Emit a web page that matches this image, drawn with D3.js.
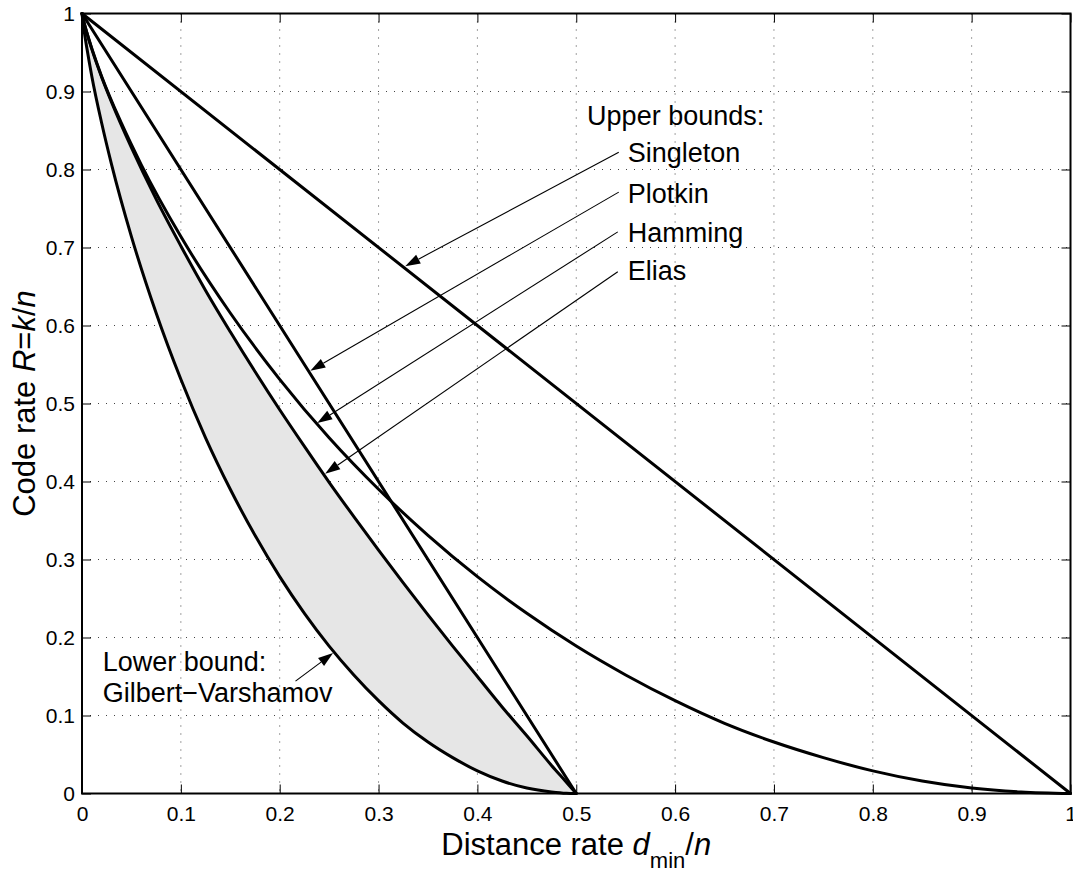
<!DOCTYPE html>
<meta charset="utf-8">
<style>
    body { margin: 0; background: #fff; }
    svg text { font-family: "Liberation Sans", Arial, sans-serif; fill: #000; }
    .grid line { stroke: #444; stroke-width: 1; stroke-dasharray: 1,7; }
    .tick-axis line { stroke: #000; stroke-width: 1; }
    .tick-axis path { display: none; }
    .tick-axis text { font-size: 21px; }
    .bound { fill: none; stroke: #000; stroke-width: 3; stroke-linejoin: round; stroke-linecap: round; }
    .note-line { stroke: #000; stroke-width: 1.1; }
    .note text { font-size: 27px; }
</style>

<svg width="1073" height="871"></svg>
<script src="https://cdn.jsdelivr.net/npm/d3@7"></script>

<script>
    // distance rate grid shared by the lower bound (GV) and the Elias bound
    var deltaLow = [0, 0.001, 0.0025, 0.005, 0.01, 0.02, 0.03, 0.05, 0.075, 0.1, 0.125, 0.15, 0.175,
        0.2, 0.225, 0.25, 0.275, 0.3, 0.325, 0.35, 0.375, 0.4, 0.425, 0.45, 0.475, 0.49, 0.5];
    var gvRate = [1, 0.989, 0.975, 0.955, 0.919, 0.859, 0.806, 0.714, 0.616, 0.531, 0.456, 0.390, 0.331,
        0.278, 0.231, 0.189, 0.152, 0.119, 0.090, 0.066, 0.046, 0.029, 0.016, 0.007, 0.002, 0.0003, 0];
    var eliasRate = [1, 0.994, 0.986, 0.975, 0.954, 0.918, 0.886, 0.828, 0.762, 0.702, 0.645, 0.592, 0.541,
        0.492, 0.445, 0.399, 0.355, 0.312, 0.270, 0.229, 0.189, 0.150, 0.111, 0.074, 0.036, 0.0145, 0];

    var deltaHam = [0, 0.002, 0.005, 0.01, 0.02, 0.04, 0.06, 0.1, 0.15, 0.2, 0.25, 0.3, 0.35, 0.4, 0.45,
        0.5, 0.55, 0.6, 0.65, 0.7, 0.75, 0.8, 0.85, 0.9, 0.95, 1];
    var hammingRate = [1, 0.989, 0.975, 0.955, 0.919, 0.859, 0.806, 0.714, 0.616, 0.531, 0.456, 0.390, 0.331,
        0.278, 0.231, 0.189, 0.152, 0.119, 0.090, 0.066, 0.046, 0.029, 0.016, 0.007, 0.002, 0];

    var singleton = [[0, 1], [1, 0]];
    var plotkin = [[0, 1], [0.5, 0]];

    var xTicks = [0, 0.1, 0.2, 0.3, 0.4, 0.5, 0.6, 0.7, 0.8, 0.9, 1];
    var yTicks = [0, 0.1, 0.2, 0.3, 0.4, 0.5, 0.6, 0.7, 0.8, 0.9, 1];

    // labels: text anchor, arrow tail, arrow tip (data units)
    var upperNotes = [
        { label: "Singleton", text: [0.552, 0.809], from: [0.543, 0.822], to: [0.327, 0.676] },
        { label: "Plotkin",   text: [0.552, 0.757], from: [0.543, 0.771], to: [0.231, 0.542] },
        { label: "Hamming",   text: [0.552, 0.707], from: [0.542, 0.720], to: [0.238, 0.475] },
        { label: "Elias",     text: [0.552, 0.658], from: [0.542, 0.669], to: [0.246, 0.410] }
    ];
    var gvNote = { lines: ["Lower bound:", "Gilbert\u2212Varshamov"], text: [0.021, 0.157],
        from: [0.216, 0.144], to: [0.254, 0.180] };

    var svg = d3.select("svg");
    var mLeft = 82, mRight = 1070.5, mTop = 13.5, mBottom = 793.5;

    var x = d3.scaleLinear().domain([0, 1]).range([mLeft, mRight]);
    var y = d3.scaleLinear().domain([0, 1]).range([mBottom, mTop]);
    var fmt = function (d) { return d === 0 || d === 1 ? String(d) : d3.format(".1f")(d); };

    // grid
    var grid = svg.append("g").attr("class", "grid");
    grid.selectAll(".gx").data(xTicks.slice(1, -1)).enter().append("line")
        .attr("x1", x).attr("x2", x).attr("y1", mTop).attr("y2", mBottom);
    grid.selectAll(".gy").data(yTicks.slice(1, -1)).enter().append("line")
        .attr("y1", y).attr("y2", y).attr("x1", mLeft).attr("x2", mRight);

    // shaded region between GV and Elias
    var lowRows = deltaLow.map(function (d, i) { return { d: d, lo: gvRate[i], hi: eliasRate[i] }; });
    svg.append("path").datum(lowRows)
        .attr("fill", "#e6e6e6")
        .attr("d", d3.area().curve(d3.curveMonotoneX)
            .x(function (r) { return x(r.d); })
            .y0(function (r) { return y(r.lo); })
            .y1(function (r) { return y(r.hi); }));

    // axes, ticks inside on all four sides
    svg.append("g").attr("class", "tick-axis").attr("transform", "translate(0," + mBottom + ")")
        .call(d3.axisBottom(x).tickValues(xTicks).tickSize(-9).tickPadding(13).tickFormat(fmt));
    svg.append("g").attr("class", "tick-axis").attr("transform", "translate(0," + mTop + ")")
        .call(d3.axisTop(x).tickValues(xTicks).tickSize(-9).tickFormat(""));
    svg.append("g").attr("class", "tick-axis").attr("transform", "translate(" + mLeft + ",0)")
        .call(d3.axisLeft(y).tickValues(yTicks).tickSize(-9).tickPadding(7).tickFormat(fmt));
    svg.append("g").attr("class", "tick-axis").attr("transform", "translate(" + mRight + ",0)")
        .call(d3.axisRight(y).tickValues(yTicks).tickSize(-9).tickFormat(""));

    svg.append("rect").attr("x", mLeft).attr("y", mTop)
        .attr("width", mRight - mLeft).attr("height", mBottom - mTop)
        .attr("fill", "none").attr("stroke", "#000").attr("stroke-width", 2);

    // bound curves
    var line = d3.line().curve(d3.curveMonotoneX)
        .x(function (p) { return x(p[0]); }).y(function (p) { return y(p[1]); });
    var curves = [
        singleton,
        plotkin,
        deltaHam.map(function (d, i) { return [d, hammingRate[i]]; }),
        deltaLow.map(function (d, i) { return [d, eliasRate[i]]; }),
        deltaLow.map(function (d, i) { return [d, gvRate[i]]; })
    ];
    svg.selectAll(".bound").data(curves).enter().append("path")
        .attr("class", "bound").attr("d", line);

    // arrows
    function arrow(g, from, to) {
        var x0 = x(from[0]), y0 = y(from[1]), x1 = x(to[0]), y1 = y(to[1]);
        var dx = x1 - x0, dy = y1 - y0, len = Math.sqrt(dx * dx + dy * dy);
        var ux = dx / len, uy = dy / len, hl = 15, hw = 5;
        var bx = x1 - ux * hl, by = y1 - uy * hl;
        g.append("line").attr("class", "note-line")
            .attr("x1", x0).attr("y1", y0).attr("x2", bx).attr("y2", by);
        g.append("path").attr("fill", "#000")
            .attr("d", "M" + x1 + "," + y1 + "L" + (bx - uy * hw) + "," + (by + ux * hw) +
                "L" + (bx + uy * hw) + "," + (by - ux * hw) + "Z");
    }

    var notes = svg.append("g").attr("class", "note");
    notes.append("text").attr("x", x(0.511)).attr("y", y(0.857)).text("Upper bounds:");
    upperNotes.forEach(function (n) {
        notes.append("text").attr("x", x(n.text[0])).attr("y", y(n.text[1])).text(n.label);
        arrow(notes, n.from, n.to);
    });
    notes.append("text").attr("x", x(gvNote.text[0])).attr("y", y(gvNote.text[1]))
        .selectAll("tspan").data(gvNote.lines).enter().append("tspan")
        .attr("x", x(gvNote.text[0])).attr("dy", function (d, i) { return i ? 31 : 0; })
        .text(function (d) { return d; });
    arrow(notes, gvNote.from, gvNote.to);

    // axis titles
    var xl = svg.append("text").attr("x", (mLeft + mRight) / 2).attr("y", 855)
        .attr("text-anchor", "middle").style("font-size", "31px");
    xl.append("tspan").text("Distance rate ");
    xl.append("tspan").style("font-style", "italic").text("d");
    xl.append("tspan").attr("dy", 13).style("font-size", "22px").text("min");
    xl.append("tspan").attr("dy", -13).text("/");
    xl.append("tspan").style("font-style", "italic").text("n");

    var yl = svg.append("text").attr("transform", "translate(35," + (mTop + mBottom) / 2 + ") rotate(-90)")
        .attr("text-anchor", "middle").style("font-size", "31px");
    yl.append("tspan").text("Code rate ");
    yl.append("tspan").style("font-style", "italic").text("R");
    yl.append("tspan").text("=");
    yl.append("tspan").style("font-style", "italic").text("k");
    yl.append("tspan").text("/");
    yl.append("tspan").style("font-style", "italic").text("n");
</script>
